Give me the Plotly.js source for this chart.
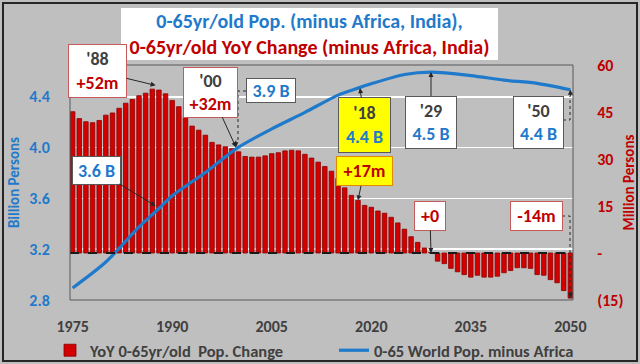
<!DOCTYPE html>
<html><head><meta charset="utf-8">
<script src="https://cdn.plot.ly/plotly-3.0.1.min.js"></script>
<style>html,body{margin:0;padding:0;background:#bfbfbf;} #chart{width:640px;height:364px;}</style>
</head><body><div id="chart"></div>
<script>
// ---- data ----
const years = [1975,1976,1977,1978,1979,1980,1981,1982,1983,1984,1985,1986,1987,1988,1989,1990,1991,1992,1993,1994,1995,1996,1997,1998,1999,2000,2001,2002,2003,2004,2005,2006,2007,2008,2009,2010,2011,2012,2013,2014,2015,2016,2017,2018,2019,2020,2021,2022,2023,2024,2025,2026,2027,2028,2029,2030,2031,2032,2033,2034,2035,2036,2037,2038,2039,2040,2041,2042,2043,2044,2045,2046,2047,2048,2049,2050];
const yoyChange = [45.1,42.9,41.9,41.6,42.3,44.0,44.7,46.2,47.8,49.0,50.2,51.0,52.3,52.0,50.8,48.7,46.7,43.5,40.5,39.2,37.6,35.3,34.5,33.9,33.3,32.3,30.8,30.6,30.6,31.0,31.7,32.0,32.6,32.8,32.6,31.5,30.3,29.0,27.6,26.1,23.8,20.8,18.4,16.8,15.2,14.6,13.4,12.7,11.4,9.6,7.6,5.2,3.4,1.6,0.2,-2.6,-3.4,-4.9,-6.0,-6.9,-7.7,-7.1,-7.7,-7.7,-7.4,-6.3,-5.6,-4.7,-4.7,-4.9,-6.9,-7.1,-8.5,-9.5,-12.0,-14.4];
const popYears = [1975,1980,1985,1988,1990,1995,2000,2005,2010,2015,2018,2020,2025,2029,2035,2040,2045,2050];
const popBillions = [2.845,3.049,3.325,3.47,3.57,3.754,3.953,4.097,4.227,4.363,4.418,4.452,4.525,4.544,4.517,4.481,4.455,4.405];
const leftTickVals = [2.75,3.15,3.55,3.95,4.35];
const leftTickText = ['2.8','3.2','3.6','4.0','4.4'];
const rightTickVals = [-15,0,15,30,45,60];
const rightTickText = ['(15)','-','15','30','45','60'];
const xTickVals = [1975,1990,2005,2020,2035,2050];
const barName = 'YoY 0-65yr/old  Pop. Change';
const lineName = '0-65 World Pop. minus Africa';

// ---- layout helpers ----
const W=640,H=364,L=70,R=67,T=65,B=64;
const PW=W-L-R, PH=H-T-B;
const px = x => (x-L)/PW;
const py = y => (H-B-y)/PH;
const RED='#c00000', BLUE='#1f7acb', DARK='#404040', GRAY='#bfbfbf';
const FONT='Carlito, Lato, "Open Sans", sans-serif';
const f = (size,color)=>({family:FONT,size:size,color:color,weight:'bold'});
const red = s => `<span style="color:${RED}">${s}</span>`;
const blue = s => `<span style="color:${BLUE}">${s}</span>`;
const AF = 18;

function box(text, cx, cy, w, h, opts){
  return Object.assign({
    text:text, xref:'paper', yref:'paper', x:px(cx), y:py(cy), xanchor:'center', yanchor:'middle',
    showarrow:false, font:f(AF,DARK), bgcolor:'#ffffff', bordercolor:'#c55a5a', borderwidth:1,
    borderpad:0, width:w, height:h
  }, opts||{});
}
function arrowBox(text, hx, hy, yref, ax, ay, w, h, opts){
  return Object.assign({
    text:text, xref:'x', yref:yref, x:hx, y:hy, ax:ax, ay:ay,
    showarrow:true, arrowhead:2, arrowsize:1, arrowwidth:1, arrowcolor:'#262626',
    font:f(AF,DARK), bgcolor:'#ffffff', bordercolor:'#c55a5a', borderwidth:1,
    borderpad:0, width:w, height:h
  }, opts||{});
}
function head(hx, hy, yref, ay){
  return {text:'', xref:'x', yref:yref, x:hx, y:hy, ax:0, ay:ay, showarrow:true,
    arrowhead:2, arrowsize:1, arrowwidth:1, arrowcolor:'#262626'};
}
function elbow(pts){
  let d = pts.map((p,i)=>(i?'L':'M')+px(p[0])+','+py(p[1])).join(' ');
  return {type:'path', xref:'paper', yref:'paper', path:d, line:{color:'#262626',width:1,dash:'dot'}};
}

const traces = [
  {type:'bar', x:years, y:yoyChange, name:barName, yaxis:'y',
   marker:{color:'#d40000', line:{color:'#8b0000', width:0.8}}},
  {type:'scatter', mode:'lines', x:popYears, y:popBillions, name:lineName, yaxis:'y2',
   line:{color:BLUE, width:3.2, shape:'spline', smoothing:0.8}}
];

const annotations = [
  box(blue('0-65yr/old Pop. (minus Africa, India),')+'<br>'+red('0-65yr/old YoY Change (minus Africa, India)'),
      309.5, 34, 375, 50, {font:f(20,BLUE), bordercolor:'#ffffff'}),
  arrowBox("'88<br>"+red('+52m'), 1987.5, 53.5, 'y', -58, -14, 57, 52),
  arrowBox("'00<br>"+red('+32m'), 1999.6, 3.953, 'y2', -25, -55, 53, 49),
  arrowBox(blue('3.6 B'), 1987.5, 3.49, 'y2', -59, -36, 47, 27, {bordercolor:'#595959'}),
  box(blue('3.9 B'), 271, 90.5, 48, 23, {bordercolor:'#595959'}),
  head(1999.6, 3.953, 'y2', -8),
  arrowBox("'18<br>"+blue('4.4 B'), 2018.3, 4.418, 'y2', 5, 37, 51, 54, {bgcolor:'#ffff00', bordercolor:'#595959'}),
  arrowBox(red('+17m'), 2018, 16.8, 'y', 6, -29, 55, 28, {bgcolor:'#ffff00', bordercolor:'#e08a00'}),
  arrowBox("'29<br>"+blue('4.5 B'), 2029, 4.544, 'y2', 0, 50, 50, 51, {bordercolor:'#595959'}),
  box("'50<br>"+blue('4.4 B'), 538.5, 122.5, 49, 51, {bordercolor:'#595959'}),
  head(2050, 4.405, 'y2', 8),
  arrowBox(red('+0'), 2029, 0, 'y', -1, -37, 30, 28),
  box(red('-14m'), 536.5, 216, 51, 28),
  head(2050, -14.4, 'y', -8)
];

const shapes = [
  {type:'line', xref:'paper', yref:'y', x0:0, x1:1, y0:0, y1:0, layer:'above',
   line:{color:'#1a1a1a', width:2, dash:'dash'}},
  {type:'rect', xref:'paper', yref:'paper', x0:0, x1:1, y0:0, y1:1, line:{color:'#595959', width:1}},
  {type:'rect', xref:'paper', yref:'paper', x0:px(3), x1:px(637), y0:py(3), y1:py(361), line:{color:'#262626', width:2}},
  elbow([[246,91],[238,91],[238,143]]),
  elbow([[563,120],[570,120],[570,96]]),
  elbow([[562,216],[570,216],[570,291]])
];

const layout = {
  width:W, height:H, margin:{l:L, r:R, t:T, b:B, autoexpand:false},
  paper_bgcolor:GRAY, plot_bgcolor:GRAY,
  font:{family:FONT},
  bargap:0.32,
  showlegend:true,
  legend:{orientation:'h', x:px(50), y:py(333), xanchor:'left', yanchor:'top',
          font:f(16.5,DARK), bgcolor:'rgba(0,0,0,0)', entrywidth:239, entrywidthmode:'pixels',
          traceorder:'normal'},
  xaxis:{range:[1974.6,2050.4], tickvals:xTickVals, ticks:'outside', ticklen:12, tickcolor:'rgba(0,0,0,0)',
         tickfont:f(16,DARK), showgrid:false, zeroline:false, showline:false},
  yaxis:{side:'right', range:[-15,60], tickvals:rightTickVals, ticktext:rightTickText,
         ticks:'outside', ticklen:20, tickcolor:'rgba(0,0,0,0)', tickfont:f(16,RED),
         showgrid:false, zeroline:false, showline:false,
         title:{text:'Million Persons', font:f(15,RED), standoff:1}},
  yaxis2:{overlaying:'y', side:'left', range:[2.75,4.6], tickvals:leftTickVals, ticktext:leftTickText,
          ticks:'outside', ticklen:16, tickcolor:'rgba(0,0,0,0)', tickfont:f(16,BLUE),
          showgrid:true, gridcolor:'#ffffff', gridwidth:1.5, zeroline:false, showline:false,
          title:{text:'Billion Persons', font:f(15,BLUE), standoff:6}},
  annotations:annotations,
  shapes:shapes
};

Plotly.newPlot('chart', traces, layout, {displayModeBar:false, staticPlot:true});
</script>
</body></html>
